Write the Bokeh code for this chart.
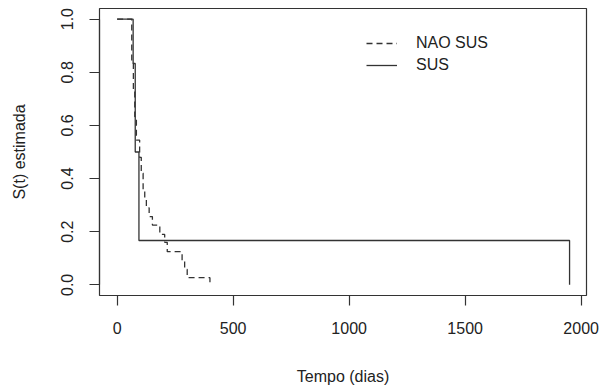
from bokeh.plotting import figure
from bokeh.models import Range1d, Legend, LegendItem, FixedTicker, PrintfTickFormatter
from bokeh.embed import file_html
from bokeh.resources import INLINE

# Kaplan-Meier estimates, survival by group
sus_time = [0, 69, 78, 94, 1950]
sus_surv = [1.0, 0.833, 0.5, 0.167, 0.0]

nao_time = [0, 63, 70, 76, 83, 97, 104, 112, 119, 126, 138, 152, 184, 205, 216, 280, 291, 302, 400]
nao_surv = [1.0, 0.833, 0.733, 0.633, 0.545, 0.48, 0.42, 0.36, 0.32, 0.29, 0.257, 0.225,
            0.19, 0.16, 0.125, 0.092, 0.058, 0.027, 0.0]

x_ticks = [0, 500, 1000, 1500, 2000]
y_ticks = [0.0, 0.2, 0.4, 0.6, 0.8, 1.0]
group_labels = ["NAO SUS", "SUS"]

FONT = "Liberation Sans"
INK = "#333333"

p = figure(width=604, height=388, output_backend="svg", toolbar_location=None,
           x_range=Range1d(-76, 2023), y_range=Range1d(-0.04, 1.04),
           min_border_left=99, min_border_right=18, min_border_top=8, min_border_bottom=93)

p.background_fill_color = "white"
p.border_fill_color = "white"
p.outline_line_color = INK
p.outline_line_width = 1.2
p.xgrid.visible = False
p.ygrid.visible = False

nao = p.step(nao_time, nao_surv, mode="after", line_color=INK, line_width=1.3, line_dash="6 4")
sus = p.step(sus_time, sus_surv, mode="after", line_color=INK, line_width=1.3)

for ax in (p.xaxis, p.yaxis):
    ax.axis_line_color = INK
    ax.axis_line_width = 1.2
    ax.major_tick_line_color = INK
    ax.major_tick_line_width = 1.2
    ax.major_tick_out = 10
    ax.major_tick_in = 0
    ax.minor_tick_line_color = None
    ax.major_label_text_font = FONT
    ax.major_label_text_font_size = "16px"
    ax.major_label_text_color = "#222222"
    ax.axis_label_text_font = FONT
    ax.axis_label_text_font_size = "16px"
    ax.axis_label_text_font_style = "normal"
    ax.axis_label_text_color = "#222222"

p.xaxis.ticker = FixedTicker(ticks=x_ticks)
p.xaxis.bounds = (0, 2000)
p.xaxis.axis_label = "Tempo (dias)"
p.xaxis.major_label_standoff = 16
p.xaxis.axis_label_standoff = 31

p.yaxis.ticker = FixedTicker(ticks=y_ticks)
p.yaxis.bounds = (0, 1)
p.yaxis.formatter = PrintfTickFormatter(format="%.1f")
p.yaxis.major_label_orientation = "vertical"
p.yaxis.axis_label = "S(t) estimada"
p.yaxis.major_label_standoff = 16
p.yaxis.axis_label_standoff = 31

legend = Legend(items=[LegendItem(label=group_labels[0], renderers=[nao]),
                       LegendItem(label=group_labels[1], renderers=[sus])],
                location=(267, 220), orientation="vertical",
                border_line_color=None, background_fill_alpha=0,
                padding=0, margin=0, spacing=2,
                glyph_width=31, glyph_height=20, label_height=20,
                label_standoff=19, label_text_font=FONT, label_text_font_size="16px",
                label_text_color="#222222")
p.add_layout(legend)

open("out.html", "w").write(file_html(p, INLINE))
